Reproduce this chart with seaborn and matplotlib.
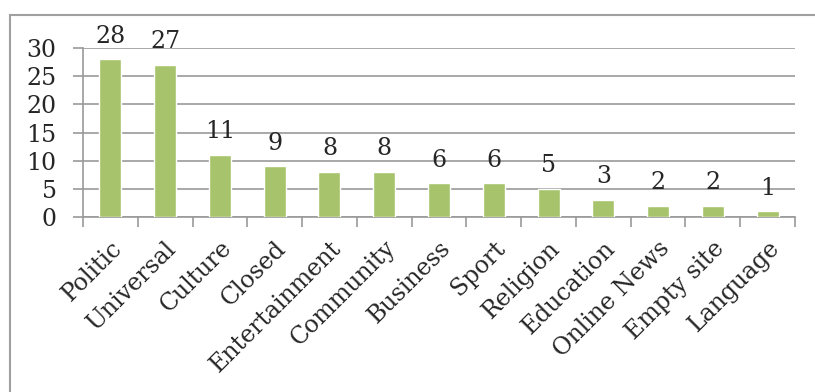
import matplotlib
matplotlib.use('Agg')
import matplotlib.pyplot as plt
import seaborn as sns
import pandas as pd
from matplotlib.patches import Rectangle

categories = ['Politic', 'Universal', 'Culture', 'Closed', 'Entertainment', 'Community',
              'Business', 'Sport', 'Religion', 'Education', 'Online News', 'Empty site', 'Language']
counts = [28, 27, 11, 9, 8, 8, 6, 6, 5, 3, 2, 2, 1]

df = pd.DataFrame({'Category': categories, 'Count': counts})

sns.set_style('white')
plt.rcParams['font.family'] = ['DejaVu Serif']

fig = plt.figure(figsize=(8.15, 3.92), dpi=100)
ax = fig.add_axes([0.1018, 0.4464, 0.8737, 0.4311])

sns.barplot(data=df, x='Category', y='Count', color='#A7C46C', width=0.4,
            saturation=1, ax=ax, zorder=3)

ax.set_ylim(0, 30)
ax.set_yticks(range(0, 31, 5))
ax.set_xlim(-0.5, len(categories) - 0.5)
ax.grid(True, axis='y', color='#9a9a9a', linewidth=1.2, zorder=0)
ax.set_axisbelow(True)

for s in ['top', 'right']:
    ax.spines[s].set_visible(False)
for s in ['left', 'bottom']:
    ax.spines[s].set_color('#9a9a9a')
    ax.spines[s].set_linewidth(1.2)

# labels at the centres, tick marks between categories like Excel
ax.set_xticks(range(len(categories)))
ax.set_xticklabels(categories, rotation=45, ha='right', va='top', rotation_mode='anchor', fontsize=17)
ax.tick_params(axis='x', length=0, pad=14)
ax.set_xticks([i - 0.5 for i in range(len(categories) + 1)], minor=True)
ax.tick_params(axis='x', which='minor', length=7, color='#9a9a9a', width=1.2, direction='out', bottom=True)
ax.tick_params(axis='y', labelsize=17, length=7, color='#9a9a9a', width=1.2, direction='out', left=True, pad=12)

ax.set_xlabel('')
ax.set_ylabel('')

for i, v in enumerate(counts):
    ax.annotate(str(v), (i, v), xytext=(0, 12), textcoords='offset points',
                ha='center', va='baseline', fontsize=17, annotation_clip=False)

fig.patches.append(Rectangle((10 / 815, -0.1), 1.0, 1 - 15 / 392 + 0.1, transform=fig.transFigure,
                             fill=False, edgecolor='#a0a0a0', linewidth=1.5))

plt.savefig('out.png', dpi=100, facecolor='w')
